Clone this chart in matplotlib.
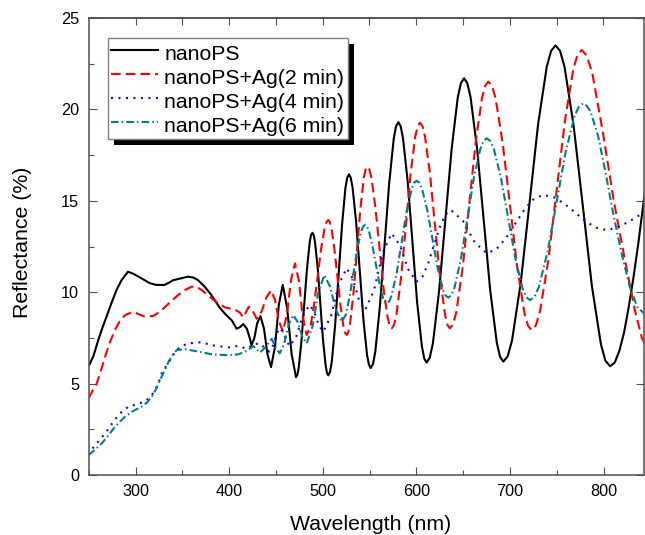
import matplotlib
matplotlib.use("Agg")
import matplotlib.pyplot as plt
from matplotlib.patches import Rectangle
from matplotlib.transforms import IdentityTransform
from matplotlib.ticker import MultipleLocator

# ---------------- data (wavelength nm, reflectance %) ----------------
black_pts = [
    (250, 5.95), (255, 6.5), (260, 7.35), (265, 8.1), (270, 8.8), (275, 9.5), (280, 10.15), (285, 10.65),
    (292, 11.12), (298, 11.0), (305, 10.8), (315, 10.5), (322, 10.4), (331, 10.4), (335, 10.5), (340, 10.65),
    (348, 10.75), (356, 10.85), (362, 10.8), (367, 10.65), (374, 10.3), (381, 9.85), (390, 9.15), (396, 8.8),
    (403, 8.45), (408, 8.0), (412, 8.1), (415, 8.26), (419, 8.0), (422, 7.5), (424, 7.1), (427, 7.5),
    (430, 8.3), (433.5, 8.7), (437.3, 8.0), (441, 6.6), (444.8, 5.9), (449, 7.0), (453.1, 9.3), (457.3, 10.4),
    (462, 9.14), (466.8, 6.61), (471.5, 5.35), (473, 5.48), (474.4, 5.88), (477.3, 7.33), (480.3, 9.3),
    (483.2, 11.28), (486.1, 12.72), (487.5, 13.12), (489, 13.25), (490.4, 13.12), (491.8, 12.73),
    (494.7, 11.3), (497.5, 9.35), (500.3, 7.4), (503.2, 5.97), (504.6, 5.58), (506, 5.45), (507.8, 5.64),
    (509.7, 6.19), (513.3, 8.2), (517, 10.95), (520.7, 13.7), (524.3, 15.71), (526.2, 16.26), (528, 16.45),
    (529.9, 16.27), (531.9, 15.74), (535.8, 13.8), (539.7, 11.15), (543.5, 8.5), (547.4, 6.56), (549.4, 6.03),
    (551.3, 5.85), (553.8, 6.08), (556.2, 6.75), (561.1, 9.21), (566, 12.58), (571, 15.94), (575.9, 18.4),
    (578.3, 19.07), (580.8, 19.3), (583.3, 19.08), (585.8, 18.42), (590.9, 16.01), (595.9, 12.73),
    (600.9, 9.44), (606, 7.03), (608.5, 6.37), (611, 6.15), (614.3, 6.41), (617.7, 7.19), (624.3, 10.04),
    (631, 13.93), (637.7, 17.81), (644.3, 20.66), (647.7, 21.44), (651, 21.7), (654.5, 21.44), (658, 20.66),
    (665, 17.83), (672, 13.95), (679, 10.08), (686, 7.24), (689.5, 6.46), (693, 6.2), (697.6, 6.49),
    (702.3, 7.36), (711.6, 10.53), (720.9, 14.85), (730.1, 19.18), (739.4, 22.34), (744.1, 23.21),
    (748.7, 23.5), (753.6, 23.2), (758.4, 22.32), (768.1, 19.11), (777.9, 14.73), (787.6, 10.34),
    (797.3, 7.13), (802.1, 6.25), (807, 5.95), (812, 6.15), (817, 6.8), (822, 7.8), (827, 9.2), (832, 10.8),
    (837, 12.6), (841, 14.2), (845, 15.8)]

red_pts = [
    (250, 4.2), (254, 4.6), (258.6, 5.0), (263, 5.7), (267.5, 6.47), (273, 7.3), (278, 7.93), (283, 8.4),
    (289, 8.75), (297.6, 8.93), (304, 8.78), (310, 8.66), (319, 8.7), (325, 8.9), (332, 9.21), (339, 9.55),
    (345.7, 9.85), (352, 10.1), (360, 10.3), (365, 10.3), (370.7, 10.12), (376, 9.9), (381.4, 9.67),
    (388, 9.4), (395.6, 9.17), (406.3, 9.05), (411.6, 8.88), (415.2, 8.62), (418, 8.9), (421, 9.2),
    (424, 9.1), (429.5, 8.55), (434.7, 8.94), (439.8, 9.71), (445, 10.1), (449.2, 9.54), (453.3, 8.41),
    (457.5, 7.85), (461.8, 8.78), (466.1, 10.65), (470.4, 11.58), (474.6, 10.6), (478.7, 8.64), (482.9, 7.66),
    (486.8, 8.08), (490.6, 9.23), (494.5, 10.8), (498.3, 12.38), (502.2, 13.53), (504.1, 13.84), (506, 13.95),
    (507.6, 13.84), (509.3, 13.53), (512.5, 12.38), (515.8, 10.8), (519.1, 9.23), (522.3, 8.08), (524, 7.77),
    (525.6, 7.66), (527.4, 7.82), (529.3, 8.28), (532.9, 9.96), (536.6, 12.27), (540.3, 14.57), (543.9, 16.25),
    (545.8, 16.71), (547.6, 16.87), (549.8, 16.72), (552, 16.28), (556.3, 14.66), (560.7, 12.45), (565, 10.23),
    (569.4, 8.61), (571.5, 8.17), (573.7, 8.02), (576.2, 8.21), (578.8, 8.77), (583.8, 10.83), (588.9, 13.65),
    (593.9, 16.46), (598.9, 18.52), (601.5, 19.08), (604, 19.27), (606.7, 19.08), (609.3, 18.52),
    (614.7, 16.46), (620, 13.65), (625.3, 10.83), (630.7, 8.77), (633.3, 8.21), (636, 8.02), (639.4, 8.25),
    (642.8, 8.92), (649.7, 11.4), (656.5, 14.77), (663.3, 18.15), (670.2, 20.62), (673.6, 21.29), (677, 21.52),
    (680.9, 21.29), (684.7, 20.61), (692.4, 18.12), (700.2, 14.73), (707.9, 11.33), (715.6, 8.84),
    (719.4, 8.16), (723.3, 7.93), (727.8, 8.19), (732.2, 8.96), (741.1, 11.76), (750, 15.59), (758.9, 19.42),
    (767.8, 22.22), (772.3, 22.99), (776.7, 23.25), (782, 22.95), (788, 22.0), (799.5, 18.7), (811, 15.0),
    (822, 12.0), (833.6, 9.0), (841, 7.5), (845, 7.1)]

blue_pts = [
    (250, 1.1), (253, 1.37), (258, 1.7), (263, 2.0), (269, 2.37), (276, 2.9), (283.5, 3.37), (292.4, 3.74),
    (303, 3.88), (312, 4.1), (317, 4.35), (321, 4.65), (325, 5.1), (328, 5.56), (332, 5.9), (337, 6.29),
    (342, 6.7), (347.7, 7.02), (356.6, 7.2), (369, 7.26), (385, 7.07), (399, 6.98), (410, 7.06), (419, 6.9),
    (426, 7.15), (433, 7.2), (438, 6.95), (443, 6.75), (446.8, 7.08), (450.6, 7.72), (454.4, 8.05),
    (457.9, 7.8), (461.5, 7.3), (465, 7.05), (472, 7.61), (479, 8.74), (486, 9.3), (490.9, 8.94), (495.7, 8.2),
    (500.6, 7.84), (508.9, 8.71), (513.1, 9.58), (517.3, 10.44), (525.6, 11.31), (532.1, 10.74), (538.7, 9.6),
    (545.2, 9.03), (554.7, 10.08), (559.5, 11.13), (564.2, 12.17), (573.7, 13.22), (582.6, 12.56), (587, 11.9),
    (591.5, 11.24), (600.4, 10.58), (606.5, 10.84), (612.6, 11.56), (618.7, 12.54), (624.8, 13.52),
    (630.9, 14.24), (637, 14.5), (649.7, 13.91), (656.1, 13.32), (662.5, 12.72), (675.2, 12.13),
    (685.3, 12.34), (695.4, 12.93), (705.5, 13.73), (715.5, 14.52), (725.6, 15.11), (735.7, 15.32),
    (747, 15.19), (758.3, 14.84), (769.6, 14.36), (780.8, 13.88), (792.1, 13.53), (803.4, 13.4), (815, 13.55),
    (825, 13.8), (835, 14.1), (845, 14.45)]

teal_pts = [
    (250, 1.09), (257, 1.4), (264, 1.73), (270, 2.1), (276, 2.5), (281.7, 2.83), (288, 3.15), (296, 3.46),
    (306.7, 3.74), (312, 3.95), (317.4, 4.28), (322, 4.7), (326.3, 5.2), (331, 5.7), (335.4, 6.2), (340, 6.6),
    (344.3, 6.84), (353.2, 6.88), (367.4, 6.75), (381.6, 6.6), (397.6, 6.56), (410, 6.6), (419, 6.8),
    (426, 7.05), (433, 6.7), (439, 7.0), (445.5, 7.45), (449.5, 7.0), (454, 6.65), (458.9, 7.18), (463.7, 8.23),
    (468.6, 8.75), (473.4, 8.36), (478.1, 7.59), (482.9, 7.2), (489.2, 8.14), (495.4, 10.0), (501.7, 10.94),
    (507.9, 10.3), (514.1, 9.03), (520.3, 8.39), (524.5, 8.74), (528.6, 9.71), (532.8, 11.04), (536.9, 12.36),
    (541.1, 13.33), (543.1, 13.59), (545.2, 13.68), (547.1, 13.61), (549.1, 13.39), (552.9, 12.61),
    (556.8, 11.54), (560.7, 10.46), (564.5, 9.68), (566.5, 9.46), (568.4, 9.39), (571.1, 9.5), (573.7, 9.84),
    (579.1, 11.07), (584.4, 12.75), (589.7, 14.42), (595.1, 15.65), (597.7, 15.99), (600.4, 16.1),
    (603.2, 15.99), (606, 15.67), (611.7, 14.5), (617.3, 12.9), (622.9, 11.3), (628.6, 10.13), (631.4, 9.81),
    (634.2, 9.7), (637.6, 9.85), (641, 10.28), (647.9, 11.88), (654.7, 14.06), (661.5, 16.24), (668.4, 17.84),
    (671.8, 18.27), (675.2, 18.42), (679.1, 18.27), (682.9, 17.83), (690.6, 16.21), (698.4, 14.0),
    (706.1, 11.78), (713.8, 10.16), (717.6, 9.72), (721.5, 9.57), (726.2, 9.75), (731, 10.29), (740.5, 12.26),
    (750, 14.95), (759.4, 17.64), (768.9, 19.61), (773.7, 20.15), (778.4, 20.33), (782, 20.2), (786, 19.9),
    (794, 18.6), (802, 16.6), (810, 14.4), (819, 12.2), (828, 10.3), (836, 9.2), (845, 8.75)]

labels = ["nanoPS", "nanoPS+Ag(2 min)", "nanoPS+Ag(4 min)", "nanoPS+Ag(6 min)"]
x_ticks = [300, 400, 500, 600, 700, 800]
y_ticks = [0, 5, 10, 15, 20, 25]

# ---------------- figure ----------------
plt.rcParams["font.family"] = ["Liberation Sans", "DejaVu Sans"]
plt.rcParams["lines.scale_dashes"] = False

W, H = 645, 535
fig = plt.figure(figsize=(W / 100, H / 100), dpi=100)
left, bottom, right, top = 88.7, 475.0, 644.5, 18.0
ax = fig.add_axes([left / W, 1 - bottom / H, (right - left) / W, (bottom - top) / H])

lw = 1.5
series = [
    (black_pts, dict(color="black", lw=lw)),
    (red_pts, dict(color="#ff0000", lw=lw, dashes=(7.0, 3.6))),
    (blue_pts, dict(color="#0000ff", lw=lw, dashes=(1.4, 4.0))),
    (teal_pts, dict(color="#008080", lw=lw, dashes=(5.5, 2.2, 1.1, 2.2))),
]
for (pts, style), lab in zip(series, labels):
    xs = [p[0] for p in pts]
    ys = [p[1] for p in pts]
    ax.plot(xs, ys, label=lab, **style)

ax.set_xlim(250, 250 + (right - left) / 0.936)
ax.set_ylim(0, 25)
ax.set_xticks(x_ticks)
ax.set_yticks(y_ticks)
ax.xaxis.set_minor_locator(MultipleLocator(50))
ax.yaxis.set_minor_locator(MultipleLocator(2.5))

spine_c = "#505050"
for s in ax.spines.values():
    s.set_color(spine_c)
    s.set_linewidth(1.1)

ax.tick_params(which="major", direction="in", length=6.0, width=0.8, color=spine_c,
               labelsize=11.7, top=False, right=True)
ax.tick_params(which="minor", direction="in", length=3.5, width=0.8, color=spine_c,
               top=False, right=False)
ax.tick_params(axis="x", which="major", pad=6.5)
ax.tick_params(axis="y", which="major", pad=7.0)
ax.tick_params(axis="y", which="major", right=True, labelright=False)

sec = ax.secondary_xaxis("top")
sec.set_xticks(list(range(300, 850, 50)))
sec.tick_params(direction="in", length=5.0, width=0.8, color=spine_c, labeltop=False)
sec.spines["top"].set_color(spine_c)
sec.spines["top"].set_linewidth(1.1)

ax.set_xlabel("Wavelength (nm)", fontsize=15.3, va="center")
ax.xaxis.set_label_coords(0.507, (bottom - 525) / (bottom - top))
ax.set_ylabel("Reflectance (%)", fontsize=15.3, va="center")
ax.yaxis.set_label_coords((22 - left) / (right - left), 0.51)

leg = ax.legend(loc="upper left", bbox_to_anchor=(107.7 / W, 1 - 37.7 / H), bbox_transform=fig.transFigure,
                fontsize=15.3, frameon=True, fancybox=False, borderpad=0.15, labelspacing=0.04,
                handlelength=2.2, handleheight=1.3, handletextpad=0.32, borderaxespad=0.0)
fr = leg.get_frame()
fr.set_edgecolor("#808080")
fr.set_linewidth(1.0)
fr.set_facecolor("white")
fr.set_alpha(1.0)

fig.canvas.draw()
bb = leg.get_frame().get_window_extent(fig.canvas.get_renderer())
shadow = Rectangle((bb.x0 + 6, bb.y0 - 6), bb.width, bb.height, transform=IdentityTransform(),
                   facecolor="black", edgecolor="none", zorder=4.9, clip_on=False)
ax.add_artist(shadow)

fig.savefig("out.png", dpi=100)
